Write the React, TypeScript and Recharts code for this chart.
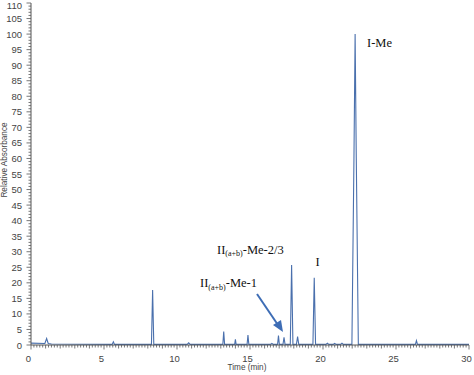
import { LineChart, Line, XAxis, YAxis } from "recharts";

// retention time (min) and relative absorbance
const times = [
  0, 0.95, 1.07, 1.18, 1.4,
  5.56, 5.64, 5.72,
  8.25, 8.33, 8.41,
  10.7, 10.8, 10.9,
  13.14, 13.2, 13.26,
  13.95, 14.0, 14.05,
  14.8, 14.86, 14.92,
  16.4, 16.5, 16.6,
  16.89, 16.95, 17.01,
  17.26, 17.33, 17.4,
  17.76, 17.85, 17.94,
  18.18, 18.26, 18.34,
  19.31, 19.4, 19.49,
  20.2, 20.3, 20.4,
  20.7, 20.8, 20.9,
  21.2, 21.3, 21.4,
  21.98, 22.12, 22.2, 22.28, 22.42,
  26.33, 26.4, 26.47,
  30,
];
const absorbance = [
  0.6, 0.5, 2.1, 0.5, 0.3,
  0.2, 1.0, 0.2,
  0.2, 17.7, 0.2,
  0.2, 0.7, 0.2,
  0.2, 4.3, 0.2,
  0.2, 1.8, 0.2,
  0.2, 3.2, 0.2,
  0.2, 0.5, 0.2,
  0.2, 3.0, 0.2,
  0.2, 2.5, 0.2,
  0.2, 25.7, 0.2,
  0.2, 2.7, 0.2,
  0.2, 21.6, 0.2,
  0.2, 0.6, 0.2,
  0.2, 0.5, 0.2,
  0.2, 0.6, 0.2,
  0.2, 60, 100, 60, 0.2,
  0.2, 1.4, 0.2,
  0.2,
];

const yTicks = Array.from({ length: 111 }, (_, i) => i);
const xTicks = Array.from({ length: 151 }, (_, i) => i / 5);

const data = times.map((t, i) => ({ t, v: absorbance[i] }));

const AXIS = "#555";
const TXT = "#444";
const SANS = "Liberation Sans, Arial, sans-serif";

function YTick({ x, y, payload }: any) {
  const v = payload.value;
  const major = v % 5 === 0;
  return (
    <g>
      <line x1={x - (major ? 4.5 : 2.5)} x2={x} y1={y} y2={y} stroke={AXIS} strokeWidth={0.8} />
      {major && (
        <text x={x - 9} y={Math.max(y, 5)} textAnchor="end" dominantBaseline="central" fontSize={9.5} fill={TXT} fontFamily={SANS}>
          {v}
        </text>
      )}
    </g>
  );
}

function XTick({ x, y, payload }: any) {
  const v = Math.round(payload.value * 5) / 5;
  const major = v % 5 === 0;
  const mid = Number.isInteger(v);
  return (
    <g>
      <line x1={x} x2={x} y1={y} y2={y + (major ? 4.5 : mid ? 3.5 : 2.5)} stroke={AXIS} strokeWidth={0.8} />
      {major && (
        <text x={x - 2.5} y={y + 16.5} textAnchor="middle" fontSize={9.5} fill={TXT} fontFamily={SANS}>
          {v}
        </text>
      )}
    </g>
  );
}

export default function App() {
  const serif = "Liberation Serif, Times New Roman, serif";
  return (
    <div style={{ position: "absolute", left: 0, top: 0, width: 474, height: 375, background: "#fff" }}>
      <LineChart width={474} height={375} data={data} margin={{ top: 3, right: 5, left: 1, bottom: 2 }}>
        <XAxis
          dataKey="t" type="number" domain={[0, 30]} ticks={xTicks} interval={0}
          height={28} tickSize={0} tickMargin={0} tickLine={false}
          axisLine={{ stroke: AXIS }} tick={<XTick />}
        />
        <YAxis
          type="number" domain={[0, 110]} ticks={yTicks} interval={0}
          width={30} tickSize={0} tickMargin={0} tickLine={false}
          axisLine={{ stroke: AXIS }} tick={<YTick />}
        />
        <Line dataKey="v" type="linear" stroke="#4a70ad" strokeWidth={1.1} dot={false} isAnimationActive={false} />
      </LineChart>
      <svg width={474} height={375} style={{ position: "absolute", left: 0, top: 0, pointerEvents: "none" }}>
        <text x={4.5} y={160} transform="rotate(-90 4.5 160)" textAnchor="middle" dominantBaseline="central" fontSize={8.2} fill={TXT} fontFamily={SANS}>
          Relative Absorbance
        </text>
        <text x={247} y={370} textAnchor="middle" fontSize={8.2} fill={TXT} fontFamily={SANS}>
          Time (min)
        </text>
        <text x={367} y={47} fontSize={12.5} fill="#111" fontFamily={serif}>I-Me</text>
        <text x={315.5} y={266} fontSize={12.5} fill="#111" fontFamily={serif}>I</text>
        <text x={217} y={253.5} fontSize={12.5} fill="#111" fontFamily={serif}>
          II<tspan fontSize={8} dy={2.5}>(a+b)</tspan><tspan dy={-2.5}>-Me-2/3</tspan>
        </text>
        <text x={200} y={287} fontSize={12.5} fill="#111" fontFamily={serif}>
          II<tspan fontSize={8} dy={2.5}>(a+b)</tspan><tspan dy={-2.5}>-Me-1</tspan>
        </text>
        <line x1={257} y1={294} x2={278} y2={325} stroke="#3e6db5" strokeWidth={2} />
        <polygon points="283,332 273,325 281,320" fill="#3e6db5" />
      </svg>
    </div>
  );
}
